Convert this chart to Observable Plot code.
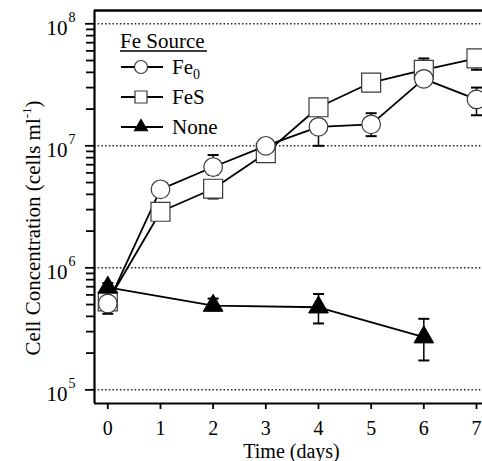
<!DOCTYPE html>
<html><head><meta charset="utf-8">
<script src="https://cdn.jsdelivr.net/npm/d3@7"></script>
<script src="https://cdn.jsdelivr.net/npm/@observablehq/plot@0.6"></script>
<style>body{margin:0;background:#fff}#chart svg{display:block}#chart svg, #chart svg text, #chart svg tspan{font-family:"Liberation Serif","DejaVu Serif","Tinos","Noto Serif","Nimbus Roman","FreeSerif","Times New Roman",Times,serif !important}</style>
</head><body><div id="chart"></div>
<script>
// ---- data ----
const days = [0, 1, 2, 3, 4, 5, 6, 7];
const noneDays = [0, 2, 4, 6];
const fe0Mean = [5.1e5, 4.4e6, 6.7e6, 1.0e7, 1.43e7, 1.5e7, 3.54e7, 2.4e7];
const fe0Low  = [4.2e5, 4.0e6, 5.8e6, 9.3e6, 1.0e7, 1.2e7, 3.1e7, 1.78e7];
const fe0High = [5.7e5, 4.8e6, 8.4e6, 1.08e7, 1.78e7, 1.85e7, 4.0e7, 3.0e7];
const fesMean = [5.3e5, 2.88e6, 4.45e6, 8.7e6, 2.07e7, 3.3e7, 4.2e7, 5.2e7];
const fesLow  = [4.7e5, 2.6e6, 3.7e6, 7.6e6, 1.9e7, 3.0e7, 3.5e7, 4.2e7];
const fesHigh = [6.0e5, 3.2e6, 5.2e6, 9.3e6, 2.3e7, 3.6e7, 5.2e7, 5.8e7];
const noneMean = [6.9e5, 4.9e5, 4.75e5, 2.7e5];
const noneLow  = [6.3e5, 4.5e5, 3.5e5, 1.74e5];
const noneHigh = [7.5e5, 5.6e5, 6.1e5, 3.82e5];
const decades = [1e5, 1e6, 1e7, 1e8];
const exponents = ["5", "6", "7", "8"];
const legendTitle = "Fe Source";
const xLabel = "Time (days)";

// ---- table built from the arrays ----
const fes = days.map((d, i) => ({series: "FeS", day: d, value: fesMean[i], lo: fesLow[i], hi: fesHigh[i]}));
const fe0 = days.map((d, i) => ({series: "Fe0", day: d, value: fe0Mean[i], lo: fe0Low[i], hi: fe0High[i]}));
const none = noneDays.map((d, i) => ({series: "None", day: d, value: noneMean[i], lo: noneLow[i], hi: noneHigh[i]}));
const rows = [...fes, ...fe0, ...none];
const minors = [];
for (const dec of [1e5, 1e6, 1e7]) for (let k = 2; k <= 9; k++) minors.push(k * dec);
const ticks = decades.map((v, i) => ({v, e: exponents[i]}));

const serif = "'Liberation Serif', 'DejaVu Serif', Tinos, 'Noto Serif', 'Times New Roman', serif";
const xDomain = [-0.2525, 7.114];
const yDomain = [Math.pow(10, 4.888), Math.pow(10, 8.109)];
const cap = {draw(ctx) { ctx.moveTo(-5.5, 0); ctx.lineTo(5.5, 0); }};
const markerStroke = "#3a3a3a";

const chart = Plot.plot({
  width: 482, height: 461,
  marginLeft: 94, marginTop: 10, marginBottom: 58, marginRight: 0,
  style: {fontFamily: serif, fontSize: "21px", background: "white", color: "black"},
  x: {domain: xDomain},
  y: {type: "log", domain: yDomain},
  marks: [
    Plot.ruleY(decades, {stroke: "#222", strokeWidth: 1.5, strokeDasharray: "1.5,2.2"}),
    Plot.axisY({ticks: minors, tickSize: 8, tickFormat: () => "", label: null, strokeWidth: 1.8}),
    Plot.axisY({ticks: decades, tickSize: 9, tickFormat: () => "", label: null, strokeWidth: 1.8}),
    Plot.text(ticks, {y: "v", text: () => "10", frameAnchor: "left", dx: -27, dy: 4, textAnchor: "end", fontSize: 21, fontFamily: serif, fill: "black"}),
    Plot.text(ticks, {y: "v", text: "e", frameAnchor: "left", dx: -26, dy: -6, textAnchor: "start", fontSize: 14, fontFamily: serif, fill: "black"}),
    Plot.axisX({ticks: days, tickSize: 6, tickPadding: 11, fontSize: 20, fontFamily: serif, label: null, strokeWidth: 1.8, fill: "black"}),
    Plot.text([xLabel], {frameAnchor: "bottom", lineAnchor: "middle", dx: 3, dy: 48, fontSize: 20, fontFamily: serif, fill: "black"}),
    Plot.ruleX([xDomain[0]], {strokeWidth: 2.2}),
    Plot.ruleY([yDomain[0]], {strokeWidth: 2.2}),
    Plot.ruleY([yDomain[1]], {strokeWidth: 2.6}),
    Plot.line(rows, {x: "day", y: "value", z: "series", stroke: "black", strokeWidth: 1.8}),
    Plot.ruleX(rows, {x: "day", y1: "lo", y2: "hi", stroke: "black", strokeWidth: 1.5}),
    Plot.dot(rows, {x: "day", y: "lo", symbol: cap, r: 1, stroke: "black", strokeWidth: 2}),
    Plot.dot(rows, {x: "day", y: "hi", symbol: cap, r: 1, stroke: "black", strokeWidth: 2}),
    Plot.dot(fes, {x: "day", y: "value", symbol: "square", r: 10.7, fill: "white", stroke: markerStroke, strokeWidth: 1.2}),
    Plot.dot(fe0, {x: "day", y: "value", symbol: "circle", r: 9.3, fill: "white", stroke: markerStroke, strokeWidth: 1.2}),
    Plot.dot(none, {x: "day", y: "value", symbol: "triangle", r: 7.3, fill: "black", stroke: "black", strokeWidth: 1})
  ]
});
document.getElementById("chart").appendChild(chart);

// ---- y-axis title with superscript ----
const svg = d3.select(chart);
const yl = svg.append("text")
  .attr("transform", "translate(40,228) rotate(-90)")
  .attr("text-anchor", "middle")
  .attr("font-size", 21)
  .attr("font-family", serif)
  .attr("fill", "black");
yl.append("tspan").text("Cell Concentration (cells ml");
yl.append("tspan").attr("font-size", 13).attr("dy", -9).text("-1");
yl.append("tspan").attr("dy", 9).text(")");

// ---- legend ----
const lg = svg.append("g").attr("text-anchor", "start").attr("font-family", serif);
lg.append("text").attr("x", 120).attr("y", 48).attr("font-size", 21).attr("text-anchor", "start").attr("fill", "black").text(legendTitle);
lg.append("line").attr("x1", 120).attr("x2", 207).attr("y1", 51).attr("y2", 51).attr("stroke", "black").attr("stroke-width", 1.4);
const entries = [
  {sym: d3.symbolCircle, size: Math.PI * 6.5 * 6.5, fill: "white", label: "Fe", sub: "0", y: 67},
  {sym: d3.symbolSquare, size: 12 * 12, fill: "white", label: "FeS", sub: null, y: 97},
  {sym: d3.symbolTriangle, size: 13 * 13 * Math.sqrt(3) / 4, fill: "black", label: "None", sub: null, y: 127}
];
for (const e of entries) {
  lg.append("line").attr("x1", 121).attr("x2", 163).attr("y1", e.y).attr("y2", e.y).attr("stroke", "black").attr("stroke-width", 1.8);
  lg.append("path").attr("d", d3.symbol(e.sym, e.size)()).attr("transform", `translate(141,${e.y})`)
    .attr("fill", e.fill).attr("stroke", e.fill === "black" ? "black" : markerStroke).attr("stroke-width", 1.2);
  const t = lg.append("text").attr("x", 172).attr("y", e.y + 7).attr("font-size", 21).attr("text-anchor", "start").attr("fill", "black");
  t.append("tspan").text(e.label);
  if (e.sub) t.append("tspan").attr("font-size", 14).attr("dy", 5).text(e.sub);
}
</script>
</body></html>
